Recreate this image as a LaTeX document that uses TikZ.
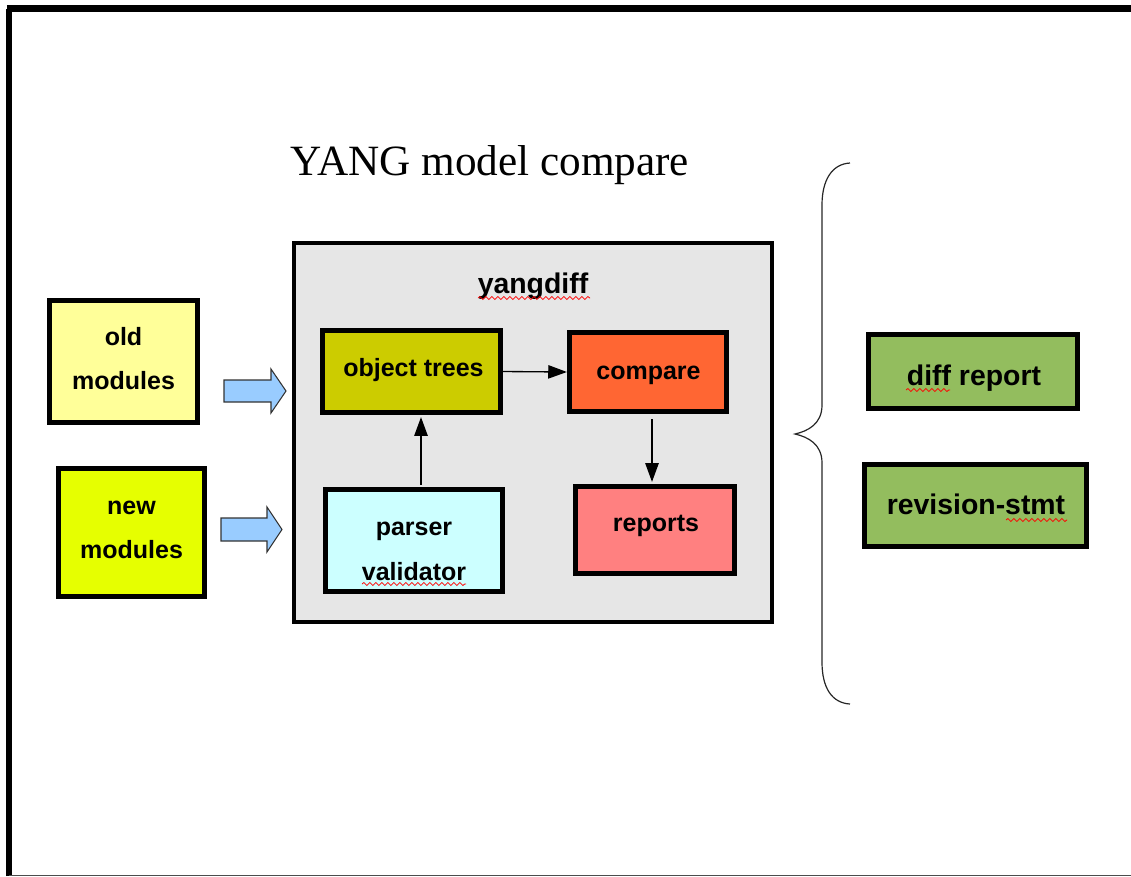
\documentclass[tikz,border=0pt]{standalone}
\usepackage{fontspec}
\setmainfont{Liberation Serif}
\newfontfamily\sansb{Liberation Sans}
\usetikzlibrary{calc,arrows.meta,decorations.pathmorphing}
\definecolor{oldc}{HTML}{FFFF99}
\definecolor{newc}{HTML}{E6FF00}
\definecolor{otc}{HTML}{CCCC00}
\definecolor{cmpc}{HTML}{FF6633}
\definecolor{repc}{HTML}{FF8080}
\definecolor{pvc}{HTML}{CCFFFF}
\definecolor{grn}{HTML}{93BD5E}
\definecolor{ydc}{HTML}{E6E6E6}
\definecolor{blk}{HTML}{99CCFF}
\begin{document}
\begin{tikzpicture}[x=0.75pt,y=-0.75pt,
  box/.style={draw=black, line width=3.9pt, inner sep=0pt, anchor=center},
  txt/.style={font=\sansb\bfseries\fontsize{18.75}{33}\selectfont, inner sep=0pt, anchor=base},
  bigtxt/.style={font=\sansb\bfseries\fontsize{21.3}{26}\selectfont, inner sep=0pt, anchor=base},
  conn/.style={line width=1pt, -{Triangle[length=14pt,width=10pt]}},
  blockarrow/.style={fill=blk, draw=black!80, line width=0.8pt, line join=miter},
  squig/.style={red, line width=0.6pt, decorate, decoration={snake, segment length=4.5pt, amplitude=1.1pt}}
]
\useasboundingbox (0,0) rectangle (1131,876);
% frame
\draw[line width=4.5pt] (9,876) -- (9,8.5);
\draw[line width=5.25pt] (6.75,8.5) -- (1131,8.5);
\draw[black!70, line width=0.8pt] (9,875.3) -- (1131,875.3);

% title
\node[font=\fontsize{32.4}{38}\selectfont, inner sep=0pt, anchor=base] (title) at (490,175) {YANG model compare};

% yangdiff container
\node[draw=black, line width=3pt, fill=ydc, minimum width={478*0.75pt}, minimum height={379*0.75pt}, inner sep=0pt] (yd) at (532.5,432) {};
\node[bigtxt] (ydt) at (533,293) {yangdiff};

% inputs
\node[box, fill=oldc, minimum width={148*0.75pt}, minimum height={122*0.75pt}] (old) at (123.5,361.5) {};
\node[txt] (oldt1) at (123.5,345) {old};
\node[txt] (oldt2) at (123.5,389) {modules};
\node[box, fill=newc, minimum width={146*0.75pt}, minimum height={128*0.75pt}] (new) at (131.5,532.5) {};
\node[txt] (newt1) at (131.5,514) {new};
\node[txt] (newt2) at (131.5,558) {modules};

% inner boxes
\node[box, fill=otc, minimum width={178*0.75pt}, minimum height={82*0.75pt}] (ot) at (411.5,371.5) {};
\node[txt] (ott) at (413.5,376) {object trees};
\node[box, fill=cmpc, minimum width={157*0.75pt}, minimum height={79*0.75pt}] (cmp) at (648,372) {};
\node[txt] (cmpt) at (648.5,379) {compare};
\node[box, fill=pvc, minimum width={177*0.75pt}, minimum height={102*0.75pt}] (pv) at (414,540.5) {};
\node[txt] (pvt1) at (414,535) {parser};
\node[txt] (pvt2) at (414,580) {validator};
\node[box, fill=repc, minimum width={159*0.75pt}, minimum height={87*0.75pt}] (rep) at (655,530) {};
\node[txt] (rept) at (656,531.5) {reports};

% outputs
\node[box, fill=grn, minimum width={209*0.75pt}, minimum height={74*0.75pt}] (dr) at (973,371.5) {};
\node[bigtxt] (drt) at (974,385) {diff report};
\node[box, fill=grn, minimum width={222*0.75pt}, minimum height={82*0.75pt}] (rs) at (975.5,505.5) {};
\node[bigtxt] (rst) at (976,514) {revision-stmt};

% connectors
\draw[conn] (ot.east) -- (cmp.west);
\draw[conn] ($(pv.north)+(7,-2)$) -- ($(ot.south)+(9.5,2)$);
\draw[conn] ($(cmp.south)+(4,5)$) -- ($(rep.north)+(-3,-2)$);

% block arrows
\draw[blockarrow] (224,380) -- (271,380) -- (271,369) -- (286,391) -- (271,413) -- (271,402) -- (224,402) -- cycle;
\draw[blockarrow] (221,518) -- (267,518) -- (267,507) -- (282,529.5) -- (267,552) -- (267,541) -- (221,541) -- cycle;

% brace
\draw[black!85, line width=0.9pt]
  (850,163) .. controls (832,164) and (822,180) .. (822,205)
  -- (822,405) .. controls (822,424) and (808,431) .. (795,434)
  .. controls (808,437) and (822,444) .. (822,463)
  -- (822,662) .. controls (822,688) and (832,703) .. (850,704);

% spell-check squiggles
\draw[squig] (478,298) -- (590,298);
\draw[squig] (906,390) -- (950,390);
\draw[squig] (1006,520) -- (1067,520);
\draw[squig] (362,584) -- (466,584);
\end{tikzpicture}
\end{document}
